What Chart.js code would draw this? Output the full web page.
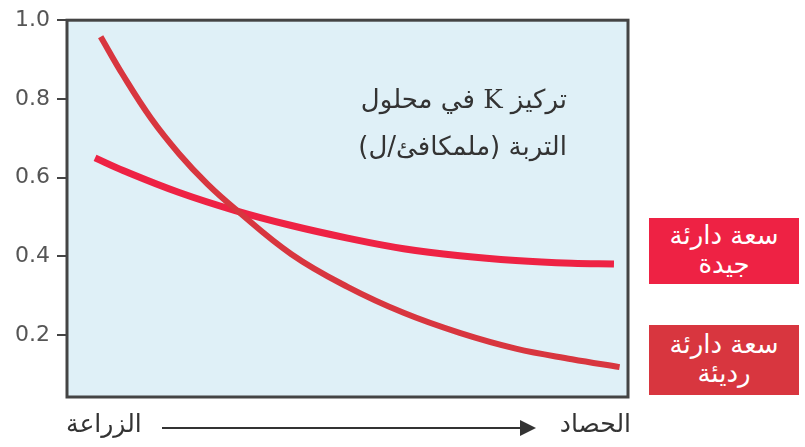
<!DOCTYPE html>
<html>
<head>
<meta charset="utf-8">
<script src="https://cdn.jsdelivr.net/npm/chart.js@4"></script>
<style>
  html, body { margin: 0; padding: 0; background: #fff; }
  #wrap { position: relative; width: 805px; height: 447px; font-family: "DejaVu Sans", sans-serif; }
  #chart { position: absolute; left: 0; top: 0; }
  .note { position: absolute; color: #333; font-size: 26px; direction: rtl; white-space: nowrap; width: 210px; text-align: right; }
  .box { position: absolute; color: #fff; font-size: 26px; text-align: center; line-height: 29px; direction: rtl; box-sizing: border-box; }
  .axis-text { position: absolute; color: #333; font-size: 25px; direction: rtl; white-space: nowrap; }
  #arrow { position: absolute; left: 162px; top: 427px; width: 358px; height: 2px; background: #333; }
  #arrow:after { content: ""; position: absolute; right: -16px; top: -7px; border-left: 16px solid #333; border-top: 8px solid transparent; border-bottom: 8px solid transparent; }
</style>
</head>
<body>
<div id="wrap">
  <canvas id="chart" width="805" height="447"></canvas>
  <div class="note" style="left:357px; top:84px;">تركيز <span style="font-family:'DejaVu Serif',serif;">K</span> في محلول</div>
  <div class="note" style="left:357px; top:131px;">التربة (ملمكافئ/ل)</div>
  <div class="box" style="left:649px; top:218px; width:150px; height:66px; background:#ee2244; padding-top:3px;">سعة دارئة<br>جيدة</div>
  <div class="box" style="left:649px; top:325px; width:150px; height:70px; background:#d8363f; padding-top:5px;">سعة دارئة<br>رديئة</div>
  <div class="axis-text" style="left:66px; top:409px;">الزراعة</div>
  <div id="arrow"></div>
  <div class="axis-text" style="left:538px; top:409px; width:93px; text-align:right; letter-spacing:1px;">الحصاد</div>
</div>
<script>
// time from planting (0) to harvest (100)
const xPoor = [6, 10, 15, 20, 25, 30, 40, 50, 60, 70, 80, 90, 98.5];
const poorValues = [0.958, 0.86, 0.75, 0.66, 0.584, 0.52, 0.405, 0.322, 0.256, 0.205, 0.165, 0.138, 0.118];

const xGood = [5, 10, 20, 30, 40, 50, 60, 70, 80, 90, 97.5];
const goodValues = [0.65, 0.618, 0.562, 0.516, 0.478, 0.446, 0.419, 0.401, 0.389, 0.382, 0.38];

const yTicks = [0.2, 0.4, 0.6, 0.8, 1.0];

const frame = {
  id: 'frame',
  beforeDraw(chart) {
    const { ctx, chartArea: a } = chart;
    ctx.save();
    ctx.fillStyle = '#dff0f7';
    ctx.fillRect(a.left, a.top, a.right - a.left, a.bottom - a.top);
    ctx.restore();
  },
  afterDraw(chart) {
    const { ctx, chartArea: a } = chart;
    ctx.save();
    ctx.strokeStyle = '#444';
    ctx.lineWidth = 3;
    ctx.strokeRect(a.left, a.top, a.right - a.left, a.bottom - a.top);
    ctx.restore();
  }
};

new Chart(document.getElementById('chart'), {
  type: 'line',
  data: {
    datasets: [
      {
        label: 'سعة دارئة رديئة',
        data: xPoor.map((x, i) => ({ x: x, y: poorValues[i] })),
        borderColor: '#d8363f',
        borderWidth: 6,
        pointRadius: 0,
        tension: 0.4,
        borderCapStyle: 'butt'
      },
      {
        label: 'سعة دارئة جيدة',
        data: xGood.map((x, i) => ({ x: x, y: goodValues[i] })),
        borderColor: '#ee2244',
        borderWidth: 7,
        pointRadius: 0,
        tension: 0.4,
        borderCapStyle: 'butt'
      }
    ]
  },
  options: {
    responsive: false,
    animation: false,
    layout: { padding: { left: 0, top: 18, right: 177, bottom: 50 } },
    plugins: { legend: { display: false }, tooltip: { enabled: false } },
    scales: {
      x: { type: 'linear', min: 0, max: 100, display: false },
      y: {
        min: 0.042,
        max: 1.0,
        afterBuildTicks: (scale) => { scale.ticks = yTicks.map(v => ({ value: v })); },
        afterFit: (scale) => { scale.width = 67; },
        grid: { drawOnChartArea: false, tickLength: 10, color: '#444', lineWidth: 2 },
        border: { display: false },
        ticks: {
          color: '#555',
          padding: 7,
          font: { family: 'DejaVu Sans', size: 22 },
          callback: (v) => Number(v).toFixed(1)
        }
      }
    }
  },
  plugins: [frame]
});
</script>
</body>
</html>
